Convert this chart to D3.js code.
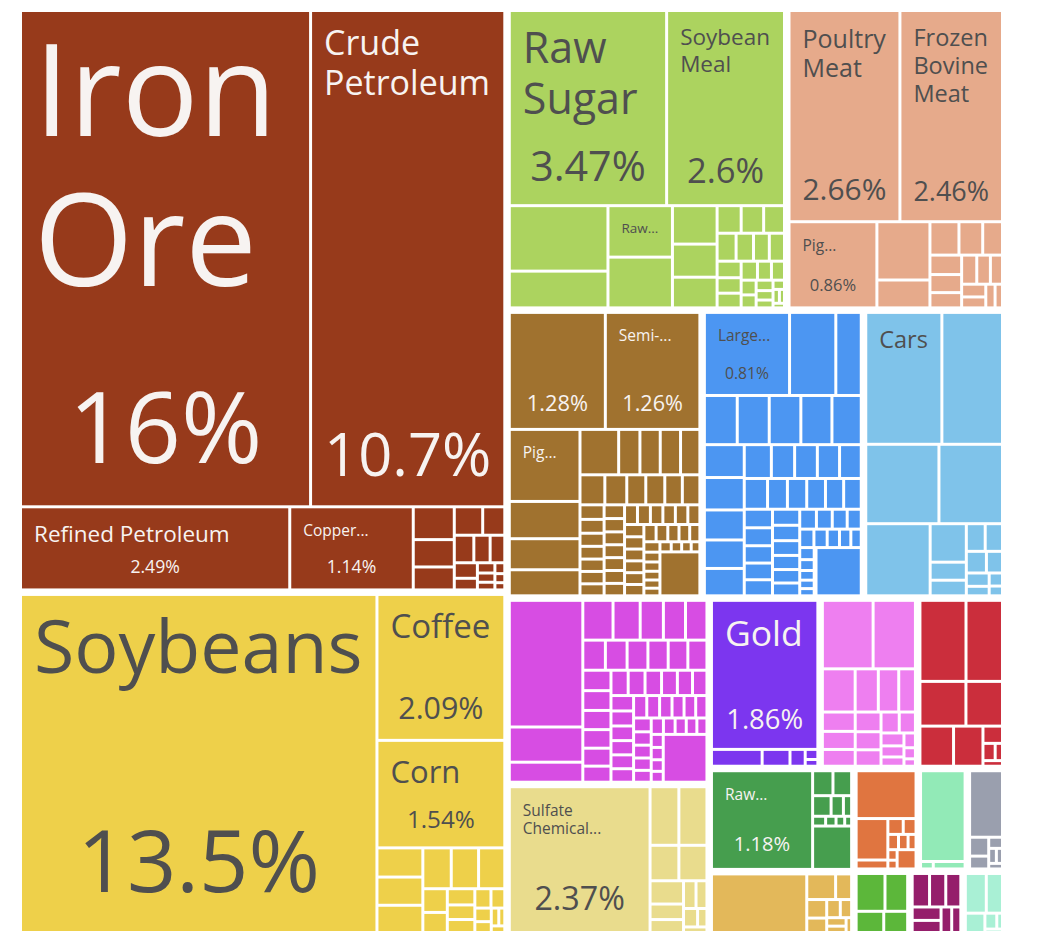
<!DOCTYPE html>
<html>
<head>
<meta charset="utf-8">
<script src="https://cdn.jsdelivr.net/npm/d3@7"></script>
<style>
  body { margin: 0; background: #ffffff; }
  svg { display: block; }
  text { font-family: "Open Sans", "Noto Sans", sans-serif; }
</style>
</head>
<body>
<svg id="chart" width="1037" height="942"></svg>
<script>
// ---- DATA (share of exports, %) ----
const sectorNames = [
  "Mineral Products", "Vegetable Products", "Foodstuffs", "Animal Products", "Metals",
  "Machines", "Transportation", "Chemical Products", "Paper Goods", "Precious Metals",
  "Plastics and Rubbers", "Wood Products", "Textiles", "Animal and Vegetable Bi-Products",
  "Animal Hides", "Footwear and Headwear", "Instruments", "Stone and Glass",
  "Miscellaneous", "Weapons"
];
const sectorColors = [
  "#973a1b", "#eed04a", "#acd35f", "#e6aa8b", "#a0722f",
  "#4c96f2", "#7fc3ea", "#d74de3", "#e9dc8d", "#7c36ef",
  "#ee7ff0", "#cb2e3c", "#469e4e", "#e3b85a",
  "#e07540", "#92eab7", "#9a9fae", "#5cb73a",
  "#951e6b", "#a9f0d5"
];

const mineralValues = [16.04, 10.74, 2.494, 1.144, 0.15, 0.125, 0.105, 0.09, 0.07, 0.06, 0.05, 0.045, 0.04, 0.03, 0.02, 0.018, 0.015, 0.012, 0.01, 0.008];
const vegetableValues = [13.5, 2.09, 1.54, 0.15, 0.145, 0.14, 0.13, 0.125, 0.12, 0.065, 0.055, 0.05, 0.045, 0.04, 0.035, 0.03, 0.025, 0.02, 0.015, 0.012, 0.01];
const foodValues = [3.47, 2.6, 0.73, 0.41, 0.375, 0.37, 0.194, 0.167, 0.155, 0.075, 0.07, 0.065, 0.06, 0.055, 0.05, 0.048, 0.045, 0.042, 0.04, 0.035, 0.03, 0.028, 0.025, 0.022, 0.02, 0.018, 0.015, 0.012, 0.01, 0.008, 0.006];
const animalValues = [2.66, 2.46, 0.86, 0.351, 0.168, 0.11, 0.09, 0.075, 0.07, 0.065, 0.055, 0.05, 0.045, 0.04, 0.035, 0.03, 0.025, 0.02];
const metalValues = [1.28, 1.26, 0.58, 0.30, 0.25, 0.21, 0.20, 0.11, 0.105, 0.105, 0.10, 0.085, 0.075, 0.065, 0.065, 0.06, 0.06,
  0.04, 0.038, 0.036, 0.035, 0.034, 0.034, 0.033, 0.032, 0.031, 0.03, 0.03, 0.03, 0.03, 0.029, 0.029, 0.029, 0.028, 0.028, 0.028,
  0.027, 0.027, 0.027, 0.026, 0.026, 0.026, 0.025, 0.024, 0.023, 0.022, 0.021, 0.02, 0.019, 0.018, 0.017, 0.016, 0.015, 0.014,
  0.013, 0.012, 0.011, 0.01, 0.2];
const machineValues = [0.81, 0.44, 0.242, 0.185, 0.18, 0.178, 0.175, 0.165, 0.15, 0.148, 0.137, 0.13, 0.125, 0.105, 0.09, 0.088,
  0.086, 0.084, 0.082, 0.07, 0.068, 0.066, 0.064, 0.062, 0.06, 0.058, 0.056, 0.054, 0.052, 0.05, 0.048, 0.046, 0.044, 0.042, 0.04,
  0.038, 0.036, 0.034, 0.032, 0.03, 0.028, 0.026, 0.024, 0.022, 0.02, 0.018, 0.016, 0.014, 0.012, 0.01, 0.25];
const transportValues = [1.154, 0.919, 0.668, 0.58, 0.534, 0.16, 0.075, 0.065, 0.06, 0.055, 0.05, 0.04, 0.035, 0.025, 0.02, 0.015];
const chemicalValues = [1.069, 0.297, 0.169, 0.138, 0.124, 0.106, 0.101, 0.098, 0.078, 0.075, 0.072, 0.07, 0.068, 0.066, 0.066,
  0.064, 0.062, 0.06, 0.058, 0.052, 0.05, 0.049, 0.048, 0.046, 0.044, 0.042, 0.04, 0.039, 0.038, 0.037, 0.036, 0.035, 0.034,
  0.033, 0.032, 0.031, 0.03, 0.029, 0.028, 0.027, 0.026, 0.025, 0.024, 0.023, 0.022, 0.021, 0.02, 0.019, 0.018, 0.017, 0.016,
  0.015, 0.24];
const paperValues = [2.37, 0.195, 0.19, 0.118, 0.115, 0.09, 0.06, 0.05, 0.04, 0.035, 0.03, 0.02, 0.015];
const preciousValues = [1.86, 0.1, 0.055, 0.03, 0.015, 0.01];
const plasticValues = [0.41, 0.342, 0.167, 0.118, 0.104, 0.085, 0.075, 0.07, 0.065, 0.06, 0.055, 0.05, 0.045, 0.04, 0.035, 0.03, 0.025, 0.02, 0.015, 0.01];
const woodValues = [0.443, 0.351, 0.244, 0.194, 0.16, 0.14, 0.04, 0.025, 0.015, 0.013];
const textileValues = [1.18, 0.06, 0.055, 0.045, 0.03, 0.02, 0.015, 0.012, 0.01, 0.008, 0.2];
const biproductValues = [0.68, 0.09, 0.05, 0.045, 0.035, 0.03, 0.025, 0.02, 0.015, 0.01];
const hideValues = [0.353, 0.162, 0.035, 0.03, 0.025, 0.02, 0.018, 0.015, 0.012, 0.01, 0.045];
const footwearValues = [0.51, 0.012, 0.03];
const instrumentValues = [0.285, 0.047, 0.032, 0.02, 0.015, 0.012, 0.01];
const stoneValues = [0.14, 0.11, 0.075, 0.065];
const miscValues = [0.075, 0.07, 0.065, 0.05, 0.045, 0.035, 0.03];
const weaponValues = [0.11, 0.085, 0.05, 0.025, 0.012, 0.008];

const sectorValues = [mineralValues, vegetableValues, foodValues, animalValues, metalValues,
  machineValues, transportValues, chemicalValues, paperValues, preciousValues,
  plasticValues, woodValues, textileValues, biproductValues,
  hideValues, footwearValues, instrumentValues, stoneValues, miscValues, weaponValues];

// [sector, position in sector, product name, label shown, show share]
const labeledProducts = [
  [0, 0, "Iron Ore", "Iron Ore", true],
  [0, 1, "Crude Petroleum", "Crude Petroleum", true],
  [0, 2, "Refined Petroleum", "Refined Petroleum", true],
  [0, 3, "Copper Ore", "Copper...", true],
  [1, 0, "Soybeans", "Soybeans", true],
  [1, 1, "Coffee", "Coffee", true],
  [1, 2, "Corn", "Corn", true],
  [2, 0, "Raw Sugar", "Raw Sugar", true],
  [2, 1, "Soybean Meal", "Soybean Meal", true],
  [2, 4, "Raw Tobacco", "Raw...", false],
  [3, 0, "Poultry Meat", "Poultry Meat", true],
  [3, 1, "Frozen Bovine Meat", "Frozen Bovine Meat", true],
  [3, 2, "Pig Meat", "Pig...", true],
  [4, 0, "Iron Reductions", "", true],
  [4, 1, "Semi-Finished Iron", "Semi-...", true],
  [4, 2, "Pig Iron", "Pig...", false],
  [5, 0, "Large Construction Vehicles", "Large...", true],
  [6, 0, "Cars", "Cars", false],
  [8, 0, "Sulfate Chemical Woodpulp", "Sulfate Chemical...", true],
  [9, 0, "Gold", "Gold", true],
  [12, 0, "Raw Cotton", "Raw...", true]
];

// ---- BUILD HIERARCHY ----
const labelMap = new Map(labeledProducts.map(p => [p[0] + "-" + p[1], p]));
const tree = {
  name: "Brazil exports",
  children: sectorNames.map((s, i) => ({
    name: s, sector: i,
    children: sectorValues[i].map((v, j) => {
      const lab = labelMap.get(i + "-" + j);
      return { name: lab ? lab[2] : s + " " + (j + 1), value: v, sector: i, label: lab || null };
    })
  }))
};

const W = 979, H = 919, X0 = 22, Y0 = 12;
const root = d3.hierarchy(tree).sum(d => d.children ? 0 : d.value);
d3.treemap()
  .tile(d3.treemapSquarify)
  .size([W, H])
  .paddingInner(d => d.depth === 0 ? 7.5 : 3)(root);

const svg = d3.select("#chart");
const g = svg.append("g").attr("transform", `translate(${X0},${Y0})`);

const color = i => sectorColors[i];
const textColor = i => d3.lab(sectorColors[i]).l > 60 ? "#4f4f4f" : "#f7f3f1";

g.selectAll("rect.leaf")
  .data(root.leaves())
  .join("rect")
  .attr("class", "leaf")
  .attr("x", d => d.x0)
  .attr("y", d => d.y0)
  .attr("width", d => Math.max(0, d.x1 - d.x0))
  .attr("height", d => Math.max(0, d.y1 - d.y0))
  .attr("fill", d => color(d.data.sector));

// ---- LABELS ----
const ctx = document.createElement("canvas").getContext("2d");
function tw(s, fs) { ctx.font = `${fs}px "Open Sans"`; return ctx.measureText(s).width; }
const fmt = d3.format(".3~r");
const LINE = 1.18;

function wrap(words, fs, avail) {
  const lines = [];
  let cur = "";
  for (const w of words) {
    if (tw(w, fs) > avail) return null;
    const test = cur ? cur + " " + w : w;
    if (tw(test, fs) <= avail) cur = test;
    else { lines.push(cur); cur = w; }
  }
  if (cur) lines.push(cur);
  return lines;
}

const labeled = root.leaves().filter(d => d.data.label);
labeled.forEach(d => {
  const lab = d.data.label;
  const text = lab[3], showShare = lab[4];
  const w = d.x1 - d.x0, h = d.y1 - d.y0, pad = 12;
  const avail = w - 2 * pad;
  const fill = textColor(d.data.sector);
  let shareFs = 0, shareStr = null;
  if (showShare) {
    shareStr = fmt(d.value) + "%";
    shareFs = Math.min(0.28 * (Math.sqrt(w * h) - 25), avail / tw(shareStr, 1), 0.27 * h - 4);
  }
  if (text) {
    const words = text.split(" ");
    const hAvail = showShare ? h - 1.75 * shareFs - 18 : h - 18;
    let maxFs = showShare ? 1.3 * shareFs : 0.25 * Math.sqrt(w * h);
    if (text.endsWith("...")) maxFs = Math.min(maxFs, 15.5);
    let fs = Math.floor(maxFs * 2) / 2, lines = null;
    for (; fs >= 8; fs -= 0.5) {
      const ls = wrap(words, fs, avail);
      if (ls && ls.length * LINE * fs <= hAvail) { lines = ls; break; }
    }
    if (lines) {
      const t = g.append("text")
        .attr("x", d.x0 + pad)
        .attr("y", d.y0 + 14 + 0.86 * fs)
        .attr("font-size", fs)
        .attr("fill", fill);
      lines.forEach((l, k) => {
        t.append("tspan").attr("x", d.x0 + pad).attr("dy", k === 0 ? 0 : LINE * fs).text(l);
      });
    }
  }
  if (showShare) {
    g.append("text")
      .attr("x", (d.x0 + d.x1) / 2)
      .attr("y", d.y1 - (10 + 0.33 * shareFs))
      .attr("text-anchor", "middle")
      .attr("font-size", shareFs)
      .attr("fill", fill)
      .text(shareStr);
  }
});
</script>
</body>
</html>
